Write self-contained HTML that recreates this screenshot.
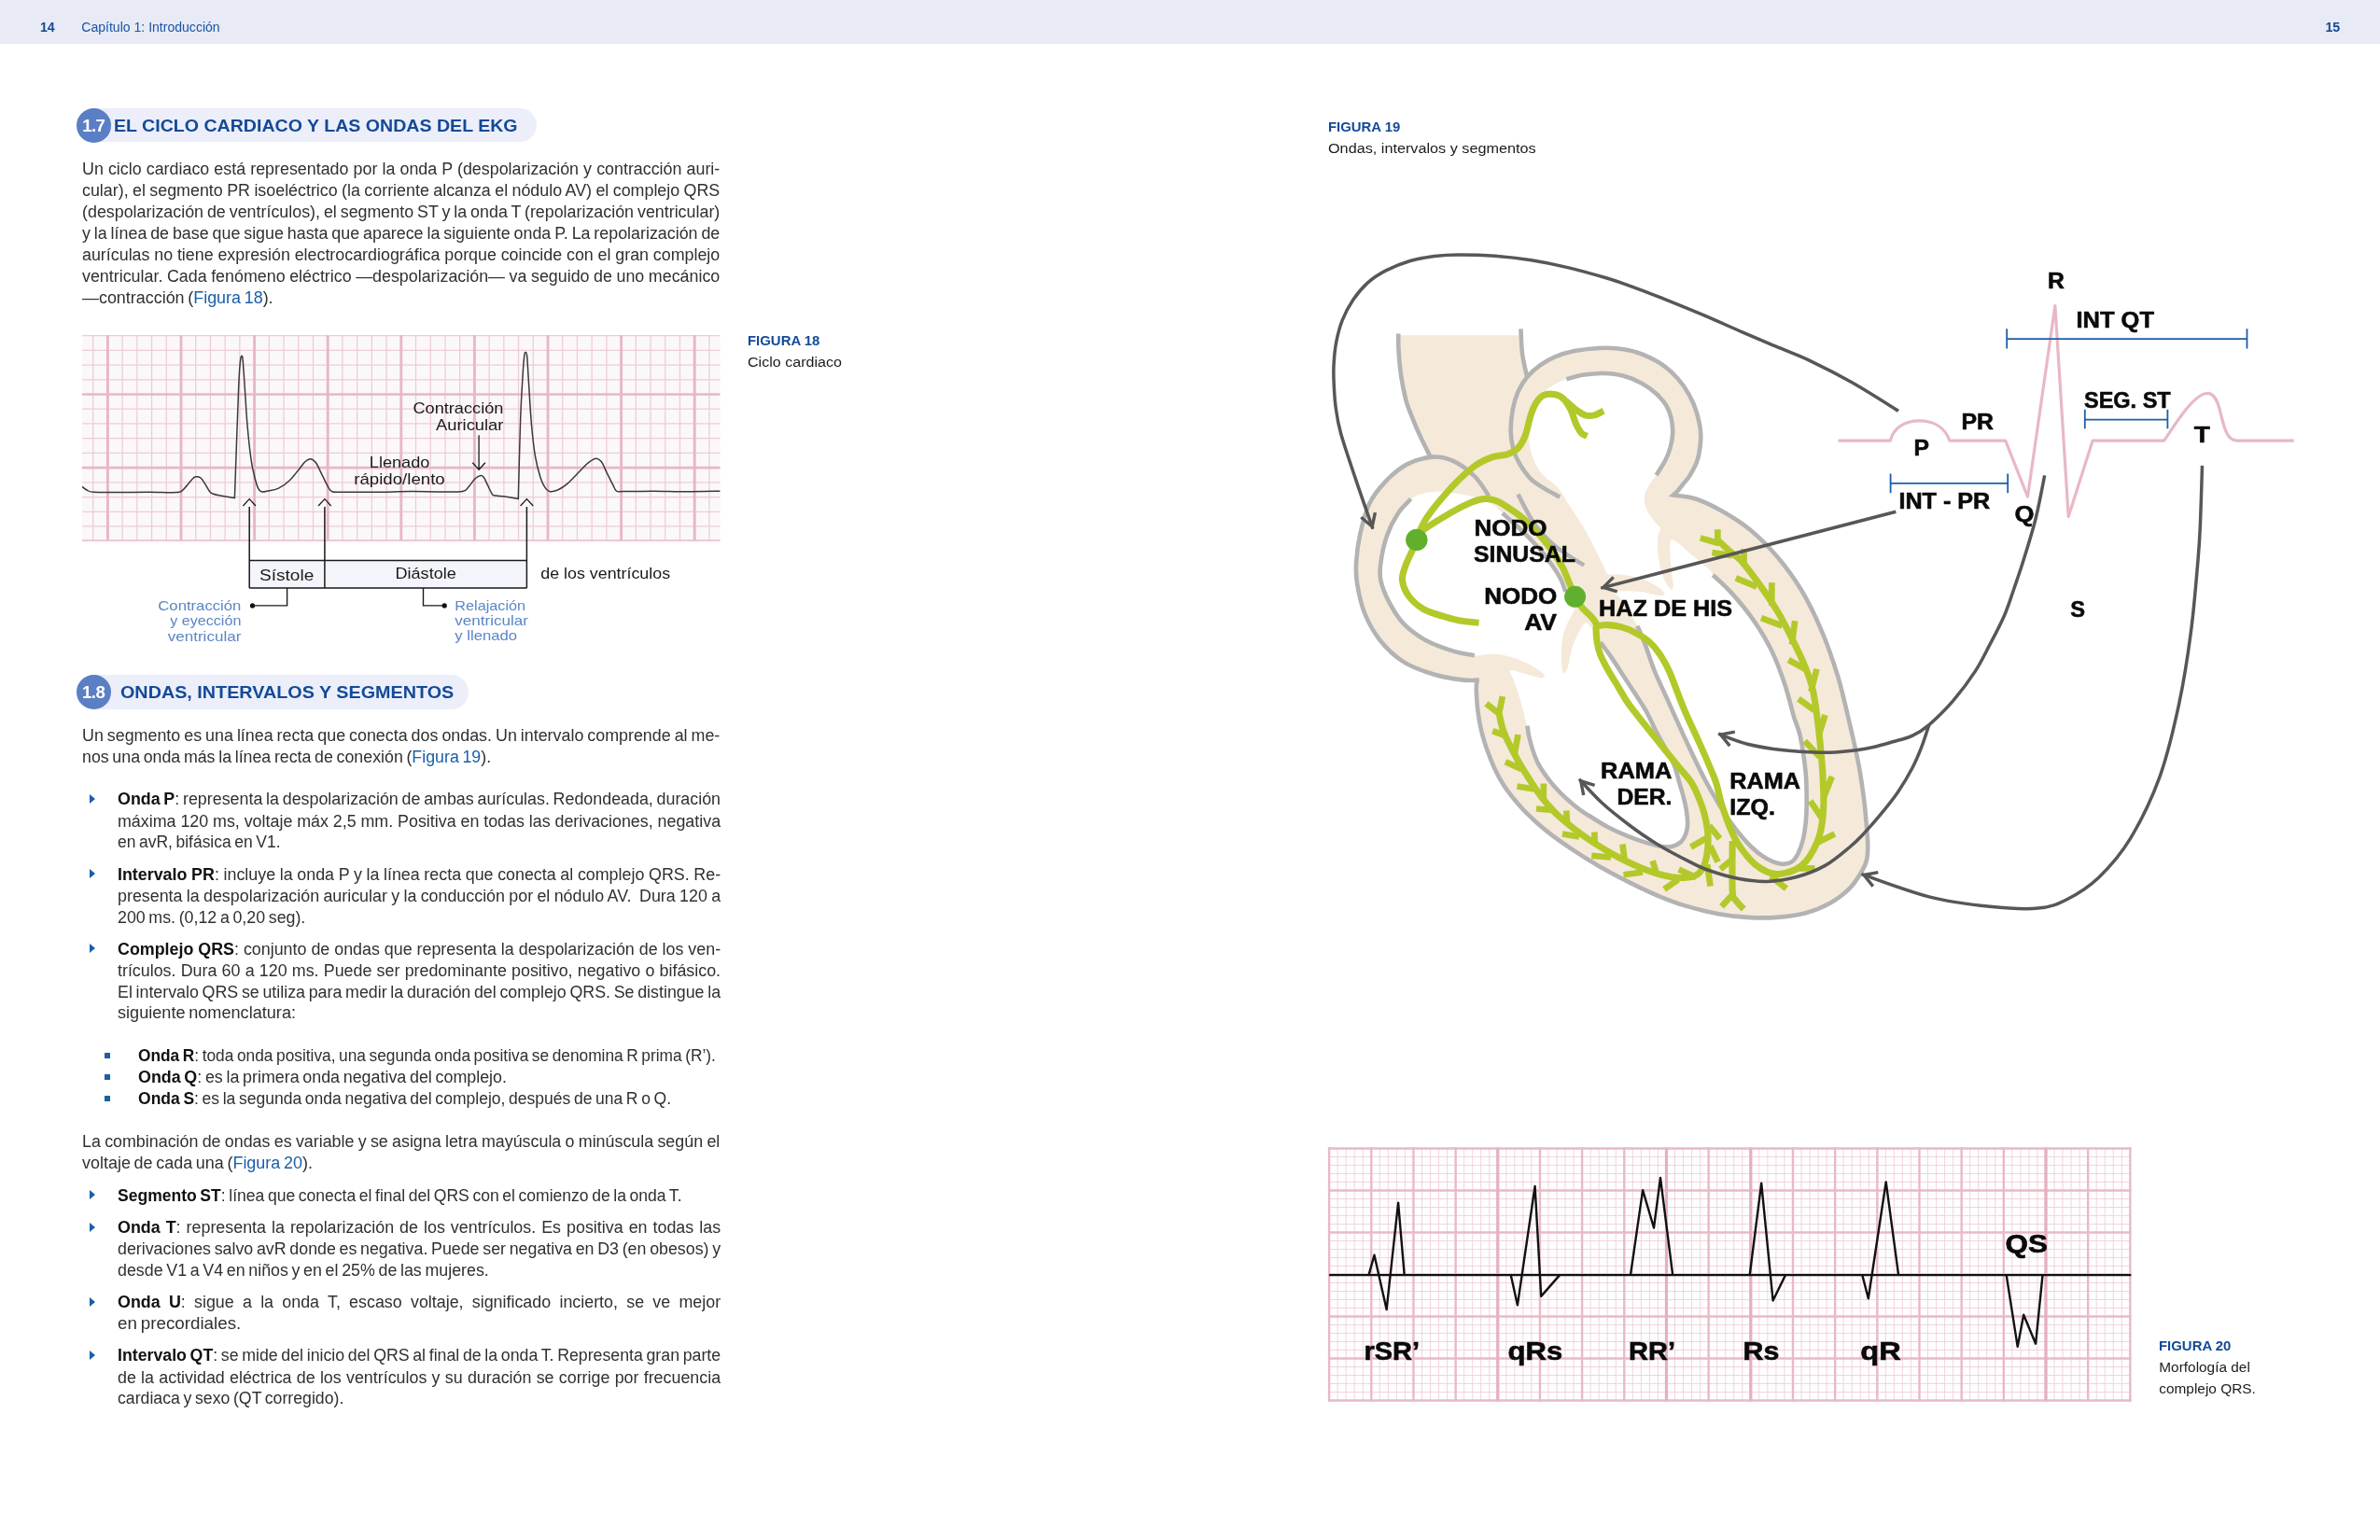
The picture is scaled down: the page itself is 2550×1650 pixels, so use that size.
<!DOCTYPE html>
<html lang="es"><head><meta charset="utf-8"><title>Cap&iacute;tulo 1</title>
<style>
html,body{margin:0;padding:0;background:#fff;}
body{width:2550px;height:1650px;position:relative;overflow:hidden;font-family:"Liberation Sans",sans-serif;color:#222;}
.hdr{position:absolute;left:0;top:0;width:2550px;height:46.5px;background:#e8eaf6;}
.pn{position:absolute;font-weight:bold;font-size:14.2px;color:#134a98;line-height:16px;letter-spacing:-0.2px}
.ch{position:absolute;font-size:14.05px;color:#1a55a3;line-height:16px;}
.pill{position:absolute;height:36.6px;background:#eceefa;border-radius:0 18.3px 18.3px 0;}
.circ{position:absolute;width:36.8px;height:36.8px;border-radius:50%;background:#5b7fc4;}
.hn{position:absolute;color:#fff;font-weight:bold;font-size:18.6px;line-height:20px;white-space:nowrap;letter-spacing:-0.6px}
.ht{position:absolute;color:#134a98;font-weight:bold;font-size:18.2px;line-height:20px;white-space:nowrap;transform-origin:0 0;}
.ln{position:absolute;word-spacing:-1.3px;font-size:18px;line-height:23px;height:23px;transform-origin:0 0;text-align:justify;text-align-last:justify;color:#303030;overflow:visible;}
.ln b{color:#111;font-weight:bold;}
.lk{color:#1a5fa8;}
.tri{position:absolute;width:0;height:0;border-left:6px solid #1a5fa8;border-top:5.8px solid transparent;border-bottom:5.8px solid transparent;}
.sq{position:absolute;width:6px;height:6px;background:#1a5fa8;}
.cap{position:absolute;font-weight:bold;color:#134a98;font-size:14.6px;line-height:16px;white-space:nowrap;transform-origin:0 0;}
.capt{position:absolute;color:#1c1c1c;font-size:15.4px;line-height:16px;white-space:nowrap;transform-origin:0 0;}
svg{position:absolute;left:0;top:0;}
svg text{font-family:"Liberation Sans",sans-serif;}
#pg{position:absolute;left:0;top:0;width:2550px;height:1650px;will-change:transform;}
</style></head><body><div id="pg">
<div class="hdr"></div>
<div class="pn" style="left:43px;top:21px">14</div>
<div class="ch" style="left:87.3px;top:21px">Cap&iacute;tulo 1: Introducci&oacute;n</div>
<div class="pn" style="left:2491.5px;top:21px">15</div>

<div class="pill" style="left:100.6px;top:115.9px;width:474.1px"></div>
<div class="circ" style="left:82.2px;top:115.8px"></div>
<div class="hn" style="left:88.3px;top:125.0px">1.7</div>
<div class="ht" id="h17" style="transform:scaleX(1.0765);left:121.8px;top:125.0px">EL CICLO CARDIACO Y LAS ONDAS DEL EKG</div>
<div class="pill" style="left:100.4px;top:723.1px;width:401.8px"></div>
<div class="circ" style="left:82.0px;top:723.0px"></div>
<div class="hn" style="left:88.1px;top:732.0px">1.8</div>
<div class="ht" id="h18" style="transform:scaleX(1.0864);left:128.8px;top:732.0px">ONDAS, INTERVALOS Y SEGMENTOS</div>
<div class="ln" style="left:88.3px;top:170.00px;width:688.81px;transform:scaleX(0.9920)">Un ciclo cardiaco está representado por la onda P (despolarización y contracción auri-</div>
<div class="ln" style="left:88.3px;top:193.00px;width:688.81px;transform:scaleX(0.9920)">cular), el segmento PR isoeléctrico (la corriente alcanza el nódulo AV) el complejo QRS</div>
<div class="ln" style="left:88.3px;top:216.00px;width:688.81px;transform:scaleX(0.9920)">(despolarización de ventrículos), el segmento ST y la onda T (repolarización ventricular)</div>
<div class="ln" style="left:88.3px;top:239.00px;width:688.81px;transform:scaleX(0.9920)">y la línea de base que sigue hasta que aparece la siguiente onda P. La repolarización de</div>
<div class="ln" style="left:88.3px;top:262.00px;width:688.81px;transform:scaleX(0.9920)">aurículas no tiene expresión electrocardiográfica porque coincide con el gran complejo</div>
<div class="ln" style="left:88.3px;top:285.00px;width:688.81px;transform:scaleX(0.9920)">ventricular. Cada fenómeno eléctrico —despolarización— va seguido de uno mecánico</div>
<div class="ln" style="left:88.3px;top:308.00px;width:207.50px;transform:scaleX(0.9956);text-align:left;text-align-last:left;white-space:nowrap">—contracción (<span class="lk">Figura 18</span>).</div>
<div class="ln" style="left:88.3px;top:777.00px;width:688.81px;transform:scaleX(0.9920)">Un segmento es una línea recta que conecta dos ondas. Un intervalo comprende al me-</div>
<div class="ln" style="left:88.3px;top:800.00px;width:445.30px;transform:scaleX(0.9883);text-align:left;text-align-last:left;white-space:nowrap">nos una onda más la línea recta de conexión (<span class="lk">Figura 19</span>).</div>
<div class="ln" style="left:125.5px;top:845.00px;width:651.35px;transform:scaleX(0.9919)"><b>Onda P</b>: representa la despolarización de ambas aurículas. Redondeada, duración</div>
<div class="ln" style="left:125.5px;top:869.00px;width:651.31px;transform:scaleX(0.9920)">máxima 120 ms, voltaje máx 2,5 mm. Positiva en todas las derivaciones, negativa</div>
<div class="ln" style="left:125.5px;top:891.00px;width:181.92px;transform:scaleX(0.9699);text-align:left;text-align-last:left;white-space:nowrap">en avR, bifásica en V1.</div>
<div class="ln" style="left:125.5px;top:926.00px;width:651.31px;transform:scaleX(0.9920)"><b>Intervalo PR</b>: incluye la onda P y la línea recta que conecta al complejo QRS. Re-</div>
<div class="ln" style="left:125.5px;top:949.00px;width:651.31px;transform:scaleX(0.9920)">presenta la despolarización auricular y la conducción por el nódulo AV.&nbsp; Dura 120 a</div>
<div class="ln" style="left:125.5px;top:972.00px;width:205.62px;transform:scaleX(0.9886);text-align:left;text-align-last:left;white-space:nowrap">200 ms. (0,12 a 0,20 seg).</div>
<div class="ln" style="left:125.5px;top:1006.00px;width:651.31px;transform:scaleX(0.9920)"><b>Complejo QRS</b>: conjunto de ondas que representa la despolarización de los ven-</div>
<div class="ln" style="left:125.5px;top:1029.00px;width:651.31px;transform:scaleX(0.9920)">trículos. Dura 60 a 120 ms. Puede ser predominante positivo, negativo o bifásico.</div>
<div class="ln" style="left:125.5px;top:1052.00px;width:652.78px;transform:scaleX(0.9898)">El intervalo QRS se utiliza para medir la duración del complejo QRS. Se distingue la</div>
<div class="ln" style="left:125.5px;top:1074.00px;width:191.83px;transform:scaleX(1.0062);text-align:left;text-align-last:left;white-space:nowrap">siguiente nomenclatura:</div>
<div class="ln" style="left:147.6px;top:1120.00px;width:645.47px;transform:scaleX(0.9618);text-align:left;text-align-last:left;white-space:nowrap"><b>Onda R</b>: toda onda positiva, una segunda onda positiva se denomina R prima (R’).</div>
<div class="ln" style="left:147.6px;top:1143.00px;width:399.83px;transform:scaleX(0.9929);text-align:left;text-align-last:left;white-space:nowrap"><b>Onda Q</b>: es la primera onda negativa del complejo.</div>
<div class="ln" style="left:147.6px;top:1166.00px;width:588.20px;transform:scaleX(0.9741);text-align:left;text-align-last:left;white-space:nowrap"><b>Onda S</b>: es la segunda onda negativa del complejo, después de una R o Q.</div>
<div class="ln" style="left:88.3px;top:1212.00px;width:688.81px;transform:scaleX(0.9920)">La combinación de ondas es variable y se asigna letra mayúscula o minúscula según el</div>
<div class="ln" style="left:88.3px;top:1235.00px;width:249.67px;transform:scaleX(0.9969);text-align:left;text-align-last:left;white-space:nowrap">voltaje de cada una (<span class="lk">Figura 20</span>).</div>
<div class="ln" style="left:125.5px;top:1270.00px;width:622.53px;transform:scaleX(0.9742);text-align:left;text-align-last:left;white-space:nowrap"><b>Segmento ST</b>: línea que conecta el final del QRS con el comienzo de la onda T.</div>
<div class="ln" style="left:125.5px;top:1304.00px;width:651.31px;transform:scaleX(0.9920)"><b>Onda T</b>: representa la repolarización de los ventrículos. Es positiva en todas las</div>
<div class="ln" style="left:125.5px;top:1327.00px;width:653.17px;transform:scaleX(0.9892)">derivaciones salvo avR donde es negativa. Puede ser negativa en D3 (en obesos) y</div>
<div class="ln" style="left:125.5px;top:1350.00px;width:403.67px;transform:scaleX(0.9904);text-align:left;text-align-last:left;white-space:nowrap">desde V1 a V4 en niños y en el 25% de las mujeres.</div>
<div class="ln" style="left:125.5px;top:1384.00px;width:651.31px;transform:scaleX(0.9920)"><b>Onda U</b>: sigue a la onda T, escaso voltaje, significado incierto, se ve mejor</div>
<div class="ln" style="left:125.5px;top:1407.00px;width:128.78px;transform:scaleX(1.0435);text-align:left;text-align-last:left;white-space:nowrap">en precordiales.</div>
<div class="ln" style="left:125.5px;top:1441.00px;width:655.89px;transform:scaleX(0.9851)"><b>Intervalo QT</b>: se mide del inicio del QRS al final de la onda T. Representa gran parte</div>
<div class="ln" style="left:125.5px;top:1465.00px;width:651.31px;transform:scaleX(0.9920)">de la actividad eléctrica de los ventrículos y su duración se corrige por frecuencia</div>
<div class="ln" style="left:125.5px;top:1487.00px;width:248.58px;transform:scaleX(0.9827);text-align:left;text-align-last:left;white-space:nowrap">cardiaca y sexo (QT corregido).</div>
<div class="tri" style="left:95.6px;top:851.1px"></div>
<div class="tri" style="left:95.6px;top:931.3px"></div>
<div class="tri" style="left:95.6px;top:1011.3px"></div>
<div class="tri" style="left:95.6px;top:1275.4px"></div>
<div class="tri" style="left:95.6px;top:1309.6px"></div>
<div class="tri" style="left:95.6px;top:1389.5px"></div>
<div class="tri" style="left:95.6px;top:1447.0px"></div>
<div class="sq" style="left:111.6px;top:1128.1px"></div>
<div class="sq" style="left:111.6px;top:1151.1px"></div>
<div class="sq" style="left:111.6px;top:1174.4px"></div>
<div class="cap" id="c1" style="transform:scaleX(1.0226);left:801.3px;top:357.2px">FIGURA 18</div>
<div class="capt" id="c2" style="transform:scaleX(1.0448);left:801.3px;top:379.8px">Ciclo cardiaco</div>
<div class="cap" id="c3" style="transform:scaleX(1.0213);left:1422.7px;top:127.9px">FIGURA 19</div>
<div class="capt" id="c4" style="transform:scaleX(1.0539);left:1422.7px;top:150.5px">Ondas, intervalos y segmentos</div>
<div class="cap" id="c5" style="transform:scaleX(1.0226);left:2313.3px;top:1434.0px">FIGURA 20</div>
<div class="capt" id="c6" style="left:2313.3px;top:1456.5px">Morfolog&iacute;a del</div>
<div class="capt" id="c7" style="left:2313.3px;top:1479.6px">complejo QRS.</div>
<svg width="2550" height="1650" viewBox="0 0 2550 1650">
<g id="fig18">
<rect x="88.0" y="359.0" width="683.5" height="221.0" fill="#fbf8f9"/>
<path d="M99.68,359.0V580.0 M131.12,359.0V580.0 M146.84,359.0V580.0 M162.56,359.0V580.0 M178.28,359.0V580.0 M209.72,359.0V580.0 M225.44,359.0V580.0 M241.16,359.0V580.0 M256.88,359.0V580.0 M288.32,359.0V580.0 M304.04,359.0V580.0 M319.76,359.0V580.0 M335.48,359.0V580.0 M366.92,359.0V580.0 M382.64,359.0V580.0 M398.36,359.0V580.0 M414.08,359.0V580.0 M445.52,359.0V580.0 M461.24,359.0V580.0 M476.96,359.0V580.0 M492.68,359.0V580.0 M524.12,359.0V580.0 M539.84,359.0V580.0 M555.56,359.0V580.0 M571.28,359.0V580.0 M602.72,359.0V580.0 M618.44,359.0V580.0 M634.16,359.0V580.0 M649.88,359.0V580.0 M681.32,359.0V580.0 M697.04,359.0V580.0 M712.76,359.0V580.0 M728.48,359.0V580.0 M759.92,359.0V580.0" stroke="#efcbd6" stroke-width="1.25" fill="none"/>
<path d="M88.0,359.62H771.5 M88.0,375.34H771.5 M88.0,391.06H771.5 M88.0,406.78H771.5 M88.0,438.22H771.5 M88.0,453.94H771.5 M88.0,469.66H771.5 M88.0,485.38H771.5 M88.0,516.82H771.5 M88.0,532.54H771.5 M88.0,548.26H771.5 M88.0,563.98H771.5" stroke="#efcbd6" stroke-width="1.25" fill="none"/>
<path d="M115.40,359.0V580.0 M194.00,359.0V580.0 M272.60,359.0V580.0 M351.20,359.0V580.0 M429.80,359.0V580.0 M508.40,359.0V580.0 M587.00,359.0V580.0 M665.60,359.0V580.0 M744.20,359.0V580.0" stroke="#e8b7c5" stroke-width="2.9" fill="none"/>
<path d="M88.0,422.50H771.5 M88.0,501.10H771.5" stroke="#e8b7c5" stroke-width="2.6" fill="none"/>
<path d="M88.0,579.10H771.5" stroke="#ecc0cc" stroke-width="1.8" fill="none"/>
<rect x="267.2" y="600.5" width="297.2" height="29.6" fill="#f4f5fb"/>
<path d="M267.2,600.5H564.4M267.2,630.1H564.4M267.2,543V630.1M347.9,543V630.1M564.4,543V630.1" stroke="#1a1a1a" stroke-width="1.5" fill="none"/>
<path d="M260.4,542.0L267.2,534.6L274.0,542.0" stroke="#1a1a1a" stroke-width="1.3" fill="none"/>
<path d="M341.1,542.0L347.9,534.6L354.7,542.0" stroke="#1a1a1a" stroke-width="1.3" fill="none"/>
<path d="M557.6,542.0L564.4,534.6L571.2,542.0" stroke="#1a1a1a" stroke-width="1.3" fill="none"/>
<path d="M307.6,630.1V648.9H270.5M453.5,630.1V648.9H476.2" stroke="#1a1a1a" stroke-width="1.4" fill="none"/>
<circle cx="270.5" cy="648.9" r="2.6" fill="#111"/><circle cx="476.2" cy="648.9" r="2.6" fill="#111"/>
<path d="M513.1,466.3V503M506.3,495.8L513.1,503.2L519.9,495.8" stroke="#1a1a1a" stroke-width="1.3" fill="none"/>
<path d="M88.1,521.4 C88.9,522.0 91.0,524.0 93.0,525.0 C95.0,526.0 94.0,526.9 100.2,527.3 C106.4,527.7 120.0,527.5 130.0,527.5 C140.0,527.5 150.1,527.3 160.0,527.3 C169.9,527.3 183.2,528.0 189.2,527.6 C195.2,527.2 193.8,526.5 196.0,524.8 C198.2,523.1 200.8,519.4 202.7,517.2 C204.6,515.0 206.2,512.8 207.7,511.7 C209.1,510.6 210.1,510.7 211.4,510.8 C212.7,510.9 214.0,511.0 215.3,512.2 C216.7,513.4 218.0,515.7 219.5,518.1 C221.0,520.5 223.1,524.7 224.5,526.5 C225.9,528.3 226.2,528.3 227.9,529.0 C229.6,529.7 230.7,530.0 234.6,530.7 C238.5,531.5 248.6,533.0 251.4,533.5 L251.4,533.5 C252.1,514.1 254.6,441.3 255.6,417.2 C256.6,393.1 256.8,394.6 257.3,388.7 C257.8,382.8 258.2,382.0 258.7,381.6 C259.2,381.2 259.6,380.2 260.2,386.1 C260.8,392.0 261.6,405.9 262.4,417.2 C263.2,428.5 263.8,441.6 264.9,454.2 C266.0,466.8 267.7,483.1 269.1,492.9 C270.5,502.7 272.1,508.0 273.3,513.0 C274.6,518.0 275.5,520.8 276.6,523.1 C277.7,525.4 278.3,526.3 280.0,526.8 C281.7,527.3 283.6,526.7 286.7,526.1 C289.8,525.5 294.6,525.0 298.5,523.1 C302.4,521.2 306.7,518.1 310.3,514.7 C313.9,511.3 317.5,506.3 320.3,502.9 C323.1,499.5 325.0,496.4 327.1,494.5 C329.2,492.6 330.9,491.4 332.9,491.7 C334.8,492.0 336.7,493.2 338.8,496.2 C340.9,499.2 343.2,505.2 345.5,509.7 C347.8,514.2 350.6,520.3 352.3,523.1 C354.0,525.9 354.0,525.8 355.6,526.5 C357.2,527.2 354.6,527.1 362.0,527.2 C369.4,527.3 387.0,527.4 400.0,527.3 C413.0,527.2 428.3,526.7 440.0,526.6 C451.7,526.5 460.8,526.9 470.0,526.9 C479.2,526.9 490.1,527.4 495.5,526.5 C500.9,525.6 500.0,523.6 502.2,521.4 C504.4,519.1 506.9,515.0 508.9,513.0 C510.9,511.1 512.8,510.0 514.3,509.7 C515.8,509.4 516.9,509.6 518.2,511.3 C519.6,513.0 521.0,516.9 522.4,519.7 C523.8,522.5 525.5,526.4 526.6,528.2 C527.7,530.0 526.7,530.1 529.1,530.7 C531.5,531.3 536.4,531.4 540.8,532.0 C545.2,532.6 552.9,534.0 555.3,534.4 L555.3,534.4 C555.7,520.5 556.8,473.1 557.6,450.8 C558.4,428.5 559.5,412.0 560.2,400.4 C560.9,388.8 561.3,384.9 561.8,381.1 C562.3,377.3 562.7,377.3 563.2,377.4 C563.7,377.5 564.2,376.7 564.7,381.9 C565.2,387.1 565.6,396.8 566.4,408.8 C567.2,420.9 568.2,440.8 569.4,454.2 C570.6,467.6 571.9,479.7 573.6,489.5 C575.3,499.3 577.7,507.4 579.5,513.0 C581.3,518.6 582.8,520.8 584.5,523.1 C586.2,525.4 587.4,526.5 589.6,526.8 C591.9,527.1 594.9,526.2 598.0,524.8 C601.1,523.3 604.5,521.2 608.1,518.1 C611.7,515.0 616.2,510.0 619.8,506.3 C623.4,502.6 626.8,498.7 629.9,496.2 C633.0,493.7 635.9,491.5 638.3,491.2 C640.7,490.9 642.2,492.0 644.2,494.5 C646.2,497.0 648.0,502.1 650.1,506.3 C652.2,510.5 655.1,516.4 656.8,519.7 C658.5,523.0 658.6,525.0 660.5,526.1 C662.4,527.2 661.4,526.6 668.0,526.6 C674.6,526.6 688.8,526.2 700.0,526.2 C711.2,526.2 723.1,526.8 735.0,526.8 C746.9,526.8 765.3,526.3 771.4,526.2" stroke="#3a3a3a" stroke-width="1.5" fill="none" stroke-linejoin="miter"/>
<text x="442.4" y="443.0" font-size="16.6" fill="#1a1a1a" text-anchor="start" font-weight="normal" textLength="97.0" lengthAdjust="spacingAndGlyphs">Contracci&oacute;n</text>
<text x="467.0" y="461.0" font-size="16.6" fill="#1a1a1a" text-anchor="start" font-weight="normal" textLength="72.4" lengthAdjust="spacingAndGlyphs">Auricular</text>
<text x="395.8" y="500.9" font-size="16.6" fill="#1a1a1a" text-anchor="start" font-weight="normal" textLength="64.6" lengthAdjust="spacingAndGlyphs">Llenado</text>
<text x="379.3" y="519.2" font-size="16.6" fill="#1a1a1a" text-anchor="start" font-weight="normal" textLength="97.4" lengthAdjust="spacingAndGlyphs">r&aacute;pido/lento</text>
<text x="278.0" y="621.8" font-size="17.4" fill="#1a1a1a" text-anchor="start" font-weight="normal" textLength="58.3" lengthAdjust="spacingAndGlyphs">S&iacute;stole</text>
<text x="423.5" y="619.9" font-size="17.4" fill="#1a1a1a" text-anchor="start" font-weight="normal" textLength="65.3" lengthAdjust="spacingAndGlyphs">Di&aacute;stole</text>
<text x="579.3" y="619.9" font-size="17.4" fill="#1a1a1a" text-anchor="start" font-weight="normal" textLength="138.8" lengthAdjust="spacingAndGlyphs">de los ventr&iacute;culos</text>
<text x="169.3" y="654.0" font-size="15.0" fill="#5a86c6" text-anchor="start" font-weight="normal" textLength="89.1" lengthAdjust="spacingAndGlyphs">Contracci&oacute;n</text>
<text x="182.2" y="670.0" font-size="15.0" fill="#5a86c6" text-anchor="start" font-weight="normal" textLength="76.2" lengthAdjust="spacingAndGlyphs">y eyecci&oacute;n</text>
<text x="179.7" y="686.5" font-size="15.0" fill="#5a86c6" text-anchor="start" font-weight="normal" textLength="78.7" lengthAdjust="spacingAndGlyphs">ventricular</text>
<text x="487.3" y="654.0" font-size="15.0" fill="#5a86c6" text-anchor="start" font-weight="normal" textLength="75.8" lengthAdjust="spacingAndGlyphs">Relajaci&oacute;n</text>
<text x="487.3" y="670.0" font-size="15.0" fill="#5a86c6" text-anchor="start" font-weight="normal" textLength="78.7" lengthAdjust="spacingAndGlyphs">ventricular</text>
<text x="487.3" y="686.0" font-size="15.0" fill="#5a86c6" text-anchor="start" font-weight="normal" textLength="66.8" lengthAdjust="spacingAndGlyphs">y llenado</text>
</g>
<g id="fig19">
<path d="M1500.6,359.2 L1627.2,359.2 L1627.2,359.2 C1627.5,362.4 1627.8,371.6 1629.0,378.7 C1630.2,385.8 1633.3,398.1 1634.2,402.0L1636.2,404.0 C1638.6,401.9 1645.4,394.8 1650.4,391.2 C1655.4,387.6 1659.9,384.8 1666.0,382.3 C1672.1,379.8 1679.0,377.7 1686.8,376.1 C1694.6,374.6 1704.9,373.4 1712.7,373.0 C1720.5,372.6 1726.6,372.7 1733.5,373.5 C1740.4,374.3 1747.4,375.4 1754.3,377.7 C1761.2,379.9 1769.0,383.6 1775.1,387.0 C1781.1,390.4 1785.8,393.9 1790.6,398.4 C1795.4,402.9 1800.2,408.3 1804.2,414.0 C1808.2,419.7 1811.7,426.1 1814.5,432.7 C1817.3,439.3 1819.5,447.4 1820.8,453.5 C1822.1,459.6 1822.4,463.7 1822.3,469.1 C1822.2,474.5 1821.2,481.6 1820.4,486.0 C1819.6,490.4 1818.8,492.7 1817.7,495.6 C1816.6,498.5 1815.4,500.8 1814.0,503.4 C1812.6,506.0 1811.2,508.6 1809.4,511.2 C1807.6,513.8 1805.2,516.3 1803.2,518.8 C1801.2,521.3 1799.0,524.5 1797.2,526.4 C1795.5,528.3 1793.5,529.7 1792.7,530.4L1792.7,530.4 C1796.7,531.1 1808.0,531.5 1816.9,534.5 C1825.8,537.5 1836.4,542.7 1846.1,548.2 C1855.8,553.7 1865.5,559.6 1875.3,567.7 C1885.0,575.8 1895.5,586.2 1904.6,596.9 C1913.7,607.6 1922.1,619.0 1929.9,632.0 C1937.7,645.0 1944.8,659.5 1951.3,674.8 C1957.8,690.0 1963.8,707.3 1968.8,723.5 C1973.8,739.7 1977.3,756.4 1981.0,772.0 C1984.7,787.6 1988.4,803.5 1991.1,817.4 C1993.8,831.3 1995.6,844.9 1997.0,855.6 C1998.4,866.3 1998.9,873.5 1999.6,881.6 C2000.3,889.7 2001.1,897.8 2001.2,904.4 C2001.3,911.0 2001.1,916.1 2000.1,921.0 C1999.0,925.9 1998.0,928.3 1994.9,933.5 C1991.8,938.7 1987.1,946.5 1981.4,952.2 C1975.7,957.9 1968.4,963.5 1960.6,967.8 C1952.8,972.1 1944.2,975.7 1934.7,978.2 C1925.2,980.7 1913.9,982.1 1903.5,982.9 C1893.1,983.7 1882.7,983.5 1872.3,982.9 C1861.9,982.3 1852.1,981.2 1841.2,979.2 C1830.3,977.2 1817.9,974.2 1807.0,970.9 C1796.1,967.6 1786.2,963.8 1775.8,959.5 C1765.4,955.2 1755.1,950.1 1744.7,944.9 C1734.3,939.7 1723.9,934.3 1713.5,928.3 C1703.1,922.2 1691.8,915.0 1682.3,908.6 C1672.8,902.2 1664.2,896.1 1656.4,889.9 C1648.6,883.7 1641.7,877.3 1635.6,871.2 C1629.5,865.1 1624.0,858.3 1620.0,853.5 C1616.0,848.7 1615.0,847.5 1611.9,842.6 C1608.8,837.7 1604.7,830.5 1601.6,823.9 C1598.5,817.3 1595.6,810.0 1593.2,803.1 C1590.8,796.2 1588.6,789.2 1587.0,782.3 C1585.4,775.4 1584.3,768.5 1583.4,761.6 C1582.5,754.7 1582.0,746.3 1581.8,740.8 C1581.6,735.3 1582.2,730.8 1582.3,728.8 L1584.6,728.8 L1584.6,728.8 C1581.8,728.8 1576.0,729.6 1568.1,728.6 C1560.1,727.6 1547.6,726.0 1536.9,722.7 C1526.2,719.5 1513.5,715.3 1503.8,709.1 C1494.0,702.9 1485.4,694.5 1478.4,685.7 C1471.4,676.9 1466.0,666.6 1461.9,656.5 C1457.9,646.4 1455.6,634.3 1454.1,625.3 C1452.6,616.3 1452.6,611.3 1453.1,602.7 C1453.6,594.1 1454.7,583.9 1457.0,573.5 C1459.3,563.1 1462.2,550.0 1466.8,540.4 C1471.3,530.8 1477.5,523.3 1484.3,516.1 C1491.1,508.9 1499.3,501.8 1507.7,497.4 C1516.1,493.0 1530.4,490.9 1534.9,489.6L1532.5,489.4 C1530.7,485.7 1524.7,473.9 1521.5,467.0 C1518.3,460.1 1516.0,454.7 1513.5,448.3 C1511.0,441.9 1508.5,436.4 1506.4,428.8 C1504.4,421.2 1502.2,411.5 1501.2,402.9 C1500.2,394.2 1500.4,384.2 1500.3,376.9 C1500.2,369.6 1500.5,362.1 1500.6,359.2Z" fill="#f5e9da"/>
<path d="M1511.6,534.6 C1507.0,538.2 1502.1,543.6 1497.9,550.1 C1493.7,556.6 1489.3,564.7 1486.2,573.5 C1483.1,582.3 1480.5,594.6 1479.4,602.7 C1478.3,610.8 1477.9,615.0 1479.4,622.0 C1480.9,629.0 1484.1,637.1 1488.2,644.8 C1492.3,652.5 1497.3,661.4 1503.8,668.2 C1510.3,675.0 1518.3,680.8 1527.1,685.7 C1535.9,690.6 1547.6,694.6 1556.4,697.4 C1565.2,700.2 1572.3,701.7 1579.8,702.3 C1587.3,702.9 1594.5,700.4 1601.6,700.8 C1608.7,701.2 1615.7,702.8 1622.3,704.9 C1628.9,707.0 1635.8,710.4 1641.0,713.2 C1646.2,716.0 1651.2,719.7 1653.5,721.6 C1655.8,723.5 1655.0,723.9 1654.5,724.7 C1654.0,725.5 1654.0,726.7 1650.4,726.2 C1646.8,725.7 1638.1,722.9 1632.7,721.6 C1627.3,720.3 1619.9,717.0 1618.2,718.4 C1616.5,719.8 1620.8,725.4 1622.3,729.9 C1623.8,734.4 1625.9,740.5 1627.5,745.5 C1629.1,750.5 1630.4,755.0 1631.7,760.0 C1633.0,765.0 1634.5,772.3 1635.3,775.3 C1636.1,778.2 1636.0,775.7 1636.4,777.7 C1636.8,779.7 1637.0,783.3 1637.9,787.5 C1638.9,791.7 1640.4,797.9 1642.1,803.1 C1643.8,808.3 1645.5,813.5 1648.3,818.7 C1651.1,823.9 1654.7,829.1 1658.7,834.3 C1662.7,839.5 1667.0,844.7 1672.2,849.9 C1677.4,855.1 1684.8,861.4 1689.9,865.5 C1695.1,869.6 1697.4,870.8 1703.1,874.3 C1708.8,877.8 1717.0,883.2 1723.9,886.8 C1730.8,890.4 1737.8,893.3 1744.7,896.1 C1751.6,898.9 1759.5,901.6 1765.5,903.4 C1771.5,905.2 1776.7,906.4 1781.0,907.0 C1785.3,907.6 1788.1,907.8 1791.4,907.0 C1794.7,906.2 1798.4,904.5 1800.8,902.3 C1803.2,900.1 1804.8,897.1 1806.0,894.0 C1807.2,890.9 1807.9,887.8 1808.1,883.6 C1808.3,879.5 1807.7,874.0 1807.0,869.1 C1806.3,864.2 1805.1,859.4 1803.9,854.5 C1802.7,849.6 1801.3,845.5 1799.7,840.0 C1798.1,834.5 1796.5,827.0 1794.3,821.3 C1792.1,815.6 1789.8,811.9 1786.5,805.7 C1783.2,799.5 1778.8,791.9 1774.8,784.3 C1770.8,776.7 1768.1,769.4 1762.6,760.0 C1757.1,750.6 1747.9,737.1 1741.8,727.8 C1735.7,718.4 1730.7,710.5 1726.2,703.9 C1721.7,697.3 1717.7,692.6 1714.8,688.3 C1711.9,684.0 1711.2,681.4 1708.6,677.9 C1706.0,674.4 1702.2,667.3 1699.2,667.5 C1696.2,667.7 1693.3,674.7 1690.9,679.0 C1688.5,683.3 1686.4,688.0 1684.7,693.5 C1683.0,699.0 1681.9,707.6 1680.5,712.2 C1679.1,716.8 1677.4,719.8 1676.4,721.0 C1675.4,722.2 1674.9,722.4 1674.3,719.5 C1673.7,716.6 1672.7,710.0 1672.7,703.9 C1672.7,697.8 1673.2,689.2 1674.3,683.1 C1675.4,677.0 1677.4,672.7 1679.5,667.5 C1681.6,662.3 1686.8,656.1 1687.0,652.0 C1687.2,647.9 1682.6,646.0 1681.0,643.0 C1679.4,640.0 1678.9,637.8 1677.4,634.0 C1675.9,630.2 1674.5,625.0 1672.2,620.5 C1670.0,616.0 1667.4,612.0 1663.9,607.0 C1660.4,602.0 1656.6,596.5 1651.4,590.4 C1646.2,584.3 1639.6,577.4 1632.7,570.6 C1625.8,563.9 1615.4,554.8 1609.9,549.9 C1604.5,545.0 1604.7,543.8 1600.0,541.0 C1595.3,538.2 1588.3,535.0 1581.7,533.0 C1575.1,531.0 1567.1,529.8 1560.3,528.7 C1553.5,527.6 1546.6,526.4 1540.8,526.4 C1535.0,526.4 1530.1,527.3 1525.2,528.7 C1520.3,530.1 1516.1,531.0 1511.6,534.6Z" fill="#fff"/>
<path d="M1678.4,406.2 C1684.7,403.9 1690.5,402.6 1697.1,401.6 C1703.7,400.6 1711.0,399.8 1717.9,400.0 C1724.8,400.2 1731.8,400.8 1738.7,402.6 C1745.6,404.4 1753.4,407.6 1759.5,410.9 C1765.6,414.2 1770.8,418.3 1775.1,422.3 C1779.4,426.3 1782.9,430.5 1785.5,434.8 C1788.1,439.1 1789.5,443.5 1790.6,448.3 C1791.7,453.1 1792.4,458.7 1792.2,463.9 C1792.0,469.1 1790.9,474.6 1789.6,479.5 C1788.3,484.4 1786.9,488.1 1784.4,493.0 C1781.9,497.9 1777.6,504.3 1774.5,509.1 C1771.4,513.9 1767.9,517.5 1765.7,521.6 C1763.5,525.8 1761.8,529.9 1761.6,534.0 C1761.4,538.1 1763.0,542.5 1764.7,546.5 C1766.4,550.5 1769.6,554.6 1772.0,557.9 C1774.4,561.2 1778.4,563.6 1779.2,566.2 C1780.0,568.8 1777.1,569.7 1776.6,573.5 C1776.1,577.3 1775.7,583.0 1776.1,589.1 C1776.5,595.2 1777.6,603.8 1779.2,609.9 C1780.8,616.0 1783.6,621.9 1785.5,625.5 C1787.4,629.1 1789.4,631.4 1790.6,631.7 C1791.8,632.0 1792.7,631.1 1792.7,627.5 C1792.7,623.9 1791.1,615.4 1790.6,609.9 C1790.1,604.4 1789.4,599.6 1789.6,594.3 C1789.8,589.0 1787.7,578.0 1791.7,578.2 C1795.7,578.4 1806.8,589.8 1813.5,595.3 C1820.2,600.8 1828.4,607.5 1832.0,611.0 C1835.6,614.5 1831.3,612.0 1835.3,616.1 C1839.3,620.2 1848.5,627.7 1855.8,635.9 C1863.1,644.1 1872.0,654.7 1879.2,665.1 C1886.4,675.5 1893.2,686.8 1898.7,698.2 C1904.2,709.6 1908.4,721.6 1912.3,733.3 C1916.2,745.0 1919.4,759.1 1922.1,768.3 C1924.8,777.4 1926.6,778.4 1928.7,788.2 C1930.8,798.0 1933.4,815.0 1934.6,827.1 C1935.8,839.2 1935.7,851.7 1935.7,860.8 C1935.7,869.9 1935.4,875.0 1934.7,881.6 C1934.0,888.2 1933.0,894.8 1931.6,900.3 C1930.2,905.8 1928.3,911.0 1926.4,914.8 C1924.5,918.6 1922.9,921.3 1920.1,923.1 C1917.3,924.9 1913.2,925.7 1909.7,925.7 C1906.2,925.7 1903.0,924.6 1899.4,923.1 C1895.8,921.6 1891.7,919.5 1887.9,916.9 C1884.1,914.3 1880.3,911.1 1876.5,907.5 C1872.7,903.9 1868.7,899.4 1865.1,895.1 C1861.5,890.8 1858.2,886.5 1854.7,881.6 C1851.2,876.8 1847.8,871.5 1844.3,866.0 C1840.8,860.5 1837.4,854.4 1833.9,848.3 C1830.4,842.1 1828.5,839.1 1823.5,829.1 C1818.5,819.1 1810.5,802.2 1804.0,788.2 C1797.5,774.2 1789.8,756.8 1784.6,745.3 C1779.4,733.8 1776.7,728.6 1773.0,719.5 C1769.3,710.4 1765.7,698.5 1762.6,690.4 C1759.5,682.2 1756.9,676.0 1754.3,670.6 C1751.7,665.2 1750.0,663.0 1747.0,658.2 C1744.0,653.4 1739.4,645.6 1736.6,641.6 C1733.8,637.6 1726.9,635.3 1730.4,634.0 C1733.9,632.7 1749.4,633.3 1757.4,634.0 C1765.4,634.7 1773.9,637.9 1778.2,638.2 C1782.5,638.6 1783.8,637.7 1783.4,636.1 C1783.1,634.5 1780.4,631.6 1776.1,628.8 C1771.8,626.0 1764.3,621.8 1757.4,619.5 C1750.5,617.2 1740.2,616.0 1734.5,615.3 C1728.8,614.6 1725.9,616.8 1723.1,615.3 C1720.3,613.8 1720.5,611.0 1717.9,606.0 C1715.3,601.0 1711.3,592.5 1707.5,585.2 C1703.7,577.9 1699.8,570.1 1695.1,562.3 C1690.4,554.5 1683.8,545.0 1679.5,538.4 C1675.2,531.8 1674.0,528.1 1669.4,522.9 C1664.8,517.7 1656.3,512.8 1651.8,507.3 C1647.2,501.8 1644.4,496.0 1642.1,489.8 C1639.8,483.6 1638.7,476.8 1638.2,470.3 C1637.7,463.8 1637.9,457.3 1639.2,450.8 C1640.5,444.3 1642.6,437.2 1646.0,431.3 C1649.4,425.4 1654.2,419.9 1659.6,415.7 C1665.0,411.5 1672.2,408.5 1678.4,406.2Z" fill="#fff"/>
<path d="M1498.3,357.4 C1498.3,360.6 1498.1,369.3 1498.6,376.9 C1499.1,384.5 1499.9,394.2 1501.2,402.9 C1502.5,411.5 1504.4,421.2 1506.4,428.8 C1508.5,436.4 1511.0,441.9 1513.5,448.3 C1516.0,454.7 1518.3,460.1 1521.5,467.0 C1524.7,473.9 1530.7,485.7 1532.5,489.4" stroke="#b3b3b3" stroke-width="4.6" fill="none" stroke-linecap="butt"/>
<path d="M1629.4,352.4 C1629.7,356.8 1629.9,370.1 1631.0,378.7 C1632.1,387.3 1635.3,399.8 1636.2,404.0" stroke="#b3b3b3" stroke-width="4.6" fill="none" stroke-linecap="butt"/>
<path d="M1595.3,531.6 C1592.7,528.0 1586.3,516.5 1579.8,510.2 C1573.3,503.9 1563.9,497.0 1556.4,493.6 C1548.9,490.2 1543.0,489.0 1534.9,489.6 C1526.8,490.2 1516.1,493.0 1507.7,497.4 C1499.3,501.8 1491.1,508.9 1484.3,516.1 C1477.5,523.3 1471.3,530.8 1466.8,540.4 C1462.2,550.0 1459.3,563.1 1457.0,573.5 C1454.7,583.9 1453.6,594.1 1453.1,602.7 C1452.6,611.3 1452.6,616.3 1454.1,625.3 C1455.6,634.3 1457.9,646.4 1461.9,656.5 C1466.0,666.6 1471.4,676.9 1478.4,685.7 C1485.4,694.5 1494.0,702.9 1503.8,709.1 C1513.5,715.3 1526.2,719.5 1536.9,722.7 C1547.6,726.0 1560.1,727.6 1568.1,728.6 C1576.0,729.6 1581.8,728.8 1584.6,728.8" stroke="#b3b3b3" stroke-width="4.6" fill="none" stroke-linecap="butt"/>
<path d="M1678.4,406.2 C1681.5,405.4 1690.5,402.6 1697.1,401.6 C1703.7,400.6 1711.0,399.8 1717.9,400.0 C1724.8,400.2 1731.8,400.8 1738.7,402.6 C1745.6,404.4 1753.4,407.6 1759.5,410.9 C1765.6,414.2 1770.8,418.3 1775.1,422.3 C1779.4,426.3 1782.9,430.5 1785.5,434.8 C1788.1,439.1 1789.5,443.5 1790.6,448.3 C1791.7,453.1 1792.4,458.7 1792.2,463.9 C1792.0,469.1 1790.9,474.6 1789.6,479.5 C1788.3,484.4 1786.9,488.1 1784.4,493.0 C1781.9,497.9 1776.2,506.4 1774.5,509.1" stroke="#b3b3b3" stroke-width="4.6" fill="none" stroke-linecap="butt"/>
<path d="M1511.6,534.6 C1509.3,537.2 1502.1,543.6 1497.9,550.1 C1493.7,556.6 1489.3,564.7 1486.2,573.5 C1483.1,582.3 1480.5,594.6 1479.4,602.7 C1478.3,610.8 1477.9,615.0 1479.4,622.0 C1480.9,629.0 1484.1,637.1 1488.2,644.8 C1492.3,652.5 1497.3,661.4 1503.8,668.2 C1510.3,675.0 1518.3,680.8 1527.1,685.7 C1535.9,690.6 1547.6,694.6 1556.4,697.4 C1565.2,700.2 1575.9,701.5 1579.8,702.3" stroke="#b3b3b3" stroke-width="4.6" fill="none" stroke-linecap="butt"/>
<path d="M1626.5,529.6 C1627.9,532.3 1631.5,539.9 1634.8,545.7 C1638.1,551.5 1641.3,558.2 1646.2,564.4 C1651.1,570.6 1657.8,577.7 1663.9,583.1 C1670.0,588.5 1677.1,592.9 1682.6,596.6 C1688.1,600.3 1694.7,604.0 1697.1,605.5" stroke="#b3b3b3" stroke-width="4.6" fill="none" stroke-linecap="butt"/>
<path d="M1609.9,549.9 C1613.7,553.4 1625.8,563.9 1632.7,570.6 C1639.6,577.4 1646.2,584.3 1651.4,590.4 C1656.6,596.5 1660.4,602.0 1663.9,607.0 C1667.4,612.0 1670.0,616.0 1672.2,620.5 C1674.5,625.0 1676.5,631.8 1677.4,634.0" stroke="#b3b3b3" stroke-width="4.6" fill="none" stroke-linecap="butt"/>
<path d="M1636.4,777.7 C1636.7,779.3 1637.0,783.3 1637.9,787.5 C1638.9,791.7 1640.4,797.9 1642.1,803.1 C1643.8,808.3 1645.5,813.5 1648.3,818.7 C1651.1,823.9 1654.7,829.1 1658.7,834.3 C1662.7,839.5 1667.0,844.7 1672.2,849.9 C1677.4,855.1 1684.8,861.4 1689.9,865.5 C1695.1,869.6 1697.4,870.8 1703.1,874.3 C1708.8,877.8 1717.0,883.2 1723.9,886.8 C1730.8,890.4 1737.8,893.3 1744.7,896.1 C1751.6,898.9 1759.5,901.6 1765.5,903.4 C1771.5,905.2 1776.7,906.4 1781.0,907.0 C1785.3,907.6 1788.1,907.8 1791.4,907.0 C1794.7,906.2 1798.4,904.5 1800.8,902.3 C1803.2,900.1 1804.8,897.1 1806.0,894.0 C1807.2,890.9 1807.9,887.8 1808.1,883.6 C1808.3,879.5 1807.7,874.0 1807.0,869.1 C1806.3,864.2 1805.1,859.4 1803.9,854.5 C1802.7,849.6 1801.3,845.5 1799.7,840.0 C1798.1,834.5 1796.5,827.0 1794.3,821.3 C1792.1,815.6 1789.8,811.9 1786.5,805.7 C1783.2,799.5 1778.8,791.9 1774.8,784.3 C1770.8,776.7 1768.1,769.4 1762.6,760.0 C1757.1,750.6 1747.9,737.1 1741.8,727.8 C1735.7,718.4 1730.7,710.5 1726.2,703.9 C1721.7,697.3 1716.7,690.9 1714.8,688.3" stroke="#b3b3b3" stroke-width="4.6" fill="none" stroke-linecap="butt"/>
<path d="M1835.3,616.1 C1838.7,619.4 1848.5,627.7 1855.8,635.9 C1863.1,644.1 1872.0,654.7 1879.2,665.1 C1886.4,675.5 1893.2,686.8 1898.7,698.2 C1904.2,709.6 1908.4,721.6 1912.3,733.3 C1916.2,745.0 1919.4,759.1 1922.1,768.3 C1924.8,777.4 1926.6,778.4 1928.7,788.2 C1930.8,798.0 1933.4,815.0 1934.6,827.1 C1935.8,839.2 1935.7,851.7 1935.7,860.8 C1935.7,869.9 1935.4,875.0 1934.7,881.6 C1934.0,888.2 1933.0,894.8 1931.6,900.3 C1930.2,905.8 1928.3,911.0 1926.4,914.8 C1924.5,918.6 1922.9,921.3 1920.1,923.1 C1917.3,924.9 1913.2,925.7 1909.7,925.7 C1906.2,925.7 1903.0,924.6 1899.4,923.1 C1895.8,921.6 1891.7,919.5 1887.9,916.9 C1884.1,914.3 1880.3,911.1 1876.5,907.5 C1872.7,903.9 1868.7,899.4 1865.1,895.1 C1861.5,890.8 1858.2,886.5 1854.7,881.6 C1851.2,876.8 1847.8,871.5 1844.3,866.0 C1840.8,860.5 1837.4,854.4 1833.9,848.3 C1830.4,842.1 1828.5,839.1 1823.5,829.1 C1818.5,819.1 1810.5,802.2 1804.0,788.2 C1797.5,774.2 1789.8,756.8 1784.6,745.3 C1779.4,733.8 1776.7,728.6 1773.0,719.5 C1769.3,710.4 1765.7,698.5 1762.6,690.4 C1759.5,682.2 1755.7,673.9 1754.3,670.6" stroke="#b3b3b3" stroke-width="4.6" fill="none" stroke-linecap="butt"/>
<path d="M1584.6,728.8 L1582.6,728.8 L1582.3,728.8 C1582.2,730.8 1581.6,735.3 1581.8,740.8 C1582.0,746.3 1582.5,754.7 1583.4,761.6 C1584.3,768.5 1585.4,775.4 1587.0,782.3 C1588.6,789.2 1590.8,796.2 1593.2,803.1 C1595.6,810.0 1598.5,817.3 1601.6,823.9 C1604.7,830.5 1608.8,837.7 1611.9,842.6 C1615.0,847.5 1616.0,848.7 1620.0,853.5 C1624.0,858.3 1629.5,865.1 1635.6,871.2 C1641.7,877.3 1648.6,883.7 1656.4,889.9 C1664.2,896.1 1672.8,902.2 1682.3,908.6 C1691.8,915.0 1703.1,922.2 1713.5,928.3 C1723.9,934.3 1734.3,939.7 1744.7,944.9 C1755.1,950.1 1765.4,955.2 1775.8,959.5 C1786.2,963.8 1796.1,967.6 1807.0,970.9 C1817.9,974.2 1830.3,977.2 1841.2,979.2 C1852.1,981.2 1861.9,982.3 1872.3,982.9 C1882.7,983.5 1893.1,983.7 1903.5,982.9 C1913.9,982.1 1925.2,980.7 1934.7,978.2 C1944.2,975.7 1952.8,972.1 1960.6,967.8 C1968.4,963.5 1975.7,957.9 1981.4,952.2 C1987.1,946.5 1991.8,938.7 1994.9,933.5 C1998.0,928.3 1999.0,925.9 2000.1,921.0 C2001.1,916.1 2001.3,911.0 2001.2,904.4 C2001.1,897.8 2000.3,889.7 1999.6,881.6 C1998.9,873.5 1998.4,866.3 1997.0,855.6 C1995.6,844.9 1993.8,831.3 1991.1,817.4 C1988.4,803.5 1984.7,787.6 1981.0,772.0 C1977.3,756.4 1973.8,739.7 1968.8,723.5 C1963.8,707.3 1957.8,690.0 1951.3,674.8 C1944.8,659.5 1937.7,645.0 1929.9,632.0 C1922.1,619.0 1913.7,607.6 1904.6,596.9 C1895.5,586.2 1885.0,575.8 1875.3,567.7 C1865.5,559.6 1855.8,553.7 1846.1,548.2 C1836.4,542.7 1825.8,537.5 1816.9,534.5 C1808.0,531.5 1796.7,531.1 1792.7,530.4 L1792.7,530.4 C1793.5,529.7 1795.5,528.3 1797.2,526.4 C1799.0,524.5 1801.2,521.3 1803.2,518.8 C1805.2,516.3 1807.6,513.8 1809.4,511.2 C1811.2,508.6 1812.6,506.0 1814.0,503.4 C1815.4,500.8 1816.6,498.5 1817.7,495.6 C1818.8,492.7 1819.6,490.4 1820.4,486.0 C1821.2,481.6 1822.2,474.5 1822.3,469.1 C1822.4,463.7 1822.1,459.6 1820.8,453.5 C1819.5,447.4 1817.3,439.3 1814.5,432.7 C1811.7,426.1 1808.2,419.7 1804.2,414.0 C1800.2,408.3 1795.4,402.9 1790.6,398.4 C1785.8,393.9 1781.1,390.4 1775.1,387.0 C1769.0,383.6 1761.2,379.9 1754.3,377.7 C1747.4,375.4 1740.4,374.3 1733.5,373.5 C1726.6,372.7 1720.5,372.6 1712.7,373.0 C1704.9,373.4 1694.6,374.6 1686.8,376.1 C1679.0,377.7 1672.1,379.8 1666.0,382.3 C1659.9,384.8 1655.4,387.6 1650.4,391.2 C1645.4,394.8 1640.2,399.3 1636.2,404.0 C1632.2,408.7 1629.1,413.8 1626.5,419.6 C1623.9,425.5 1622.0,432.0 1620.7,439.1 C1619.4,446.2 1618.6,455.4 1618.7,462.5 C1618.8,469.6 1620.0,476.2 1621.6,482.0 C1623.2,487.8 1625.4,492.3 1628.5,497.5 C1631.6,502.7 1635.9,508.9 1640.1,513.1 C1644.3,517.3 1648.6,519.6 1653.8,522.9 C1659.0,526.1 1668.4,531.0 1671.3,532.6" stroke="#b3b3b3" stroke-width="4.6" fill="none" stroke-linejoin="miter" stroke-miterlimit="8"/>
<path d="M1517.4,578.0 C1519.4,574.0 1522.6,563.5 1529.1,554.0 C1535.6,544.5 1548.0,530.0 1556.4,520.9 C1564.9,511.8 1572.7,504.7 1579.8,499.5 C1586.9,494.3 1593.4,491.8 1599.2,489.7 C1605.0,487.6 1610.2,488.4 1614.8,486.8 C1619.3,485.2 1623.2,483.4 1626.5,480.0 C1629.8,476.6 1632.0,472.2 1634.3,466.4 C1636.6,460.5 1638.1,450.8 1640.1,444.9 C1642.0,439.0 1643.7,434.9 1646.0,431.3 C1648.3,427.7 1650.5,425.0 1653.8,423.5 C1657.0,422.0 1661.9,421.9 1665.5,422.5 C1669.1,423.1 1672.3,424.6 1675.2,427.4 C1678.1,430.2 1680.7,434.6 1683.0,439.1 C1685.3,443.7 1686.8,450.5 1688.8,454.7 C1690.8,458.9 1692.8,462.3 1694.7,464.4 C1696.7,466.5 1699.5,466.8 1700.5,467.3" stroke="#b3c92a" stroke-width="7.1" fill="none" stroke-linecap="butt"/>
<path d="M1677.5,429.5 C1679.4,431.1 1685.3,436.5 1688.8,439.1 C1692.3,441.7 1695.3,443.9 1698.6,444.9 C1701.8,445.9 1705.0,445.7 1708.3,444.9 C1711.5,444.1 1716.5,440.9 1718.1,440.1" stroke="#b3c92a" stroke-width="7.1" fill="none" stroke-linecap="butt"/>
<path d="M1517.8,578.4 C1519.0,576.6 1518.8,572.7 1525.2,567.7 C1531.6,562.7 1548.0,553.1 1556.4,548.2 C1564.8,543.3 1570.3,540.8 1575.8,538.5 C1581.3,536.2 1585.0,534.9 1589.5,534.6 C1594.0,534.3 1598.5,534.8 1603.1,536.5 C1607.7,538.2 1612.2,541.4 1617.1,544.7 C1622.0,548.0 1627.5,551.6 1632.7,556.1 C1637.9,560.6 1643.1,565.8 1648.3,571.7 C1653.5,577.6 1659.6,585.4 1663.9,591.4 C1668.2,597.4 1671.5,602.8 1674.3,608.0 C1677.1,613.2 1679.0,619.0 1680.5,622.6 C1682.0,626.2 1682.4,627.1 1683.6,629.9 C1684.8,632.7 1686.9,637.7 1687.6,639.3" stroke="#b3c92a" stroke-width="7.1" fill="none" stroke-linecap="butt"/>
<path d="M1517.8,578.4 C1517.1,580.2 1515.5,584.4 1513.5,589.1 C1511.5,593.8 1507.5,601.1 1505.7,606.6 C1503.9,612.1 1501.8,616.6 1502.5,622.0 C1503.2,627.4 1505.8,633.9 1509.6,639.0 C1513.4,644.1 1519.0,649.0 1525.2,652.6 C1531.4,656.2 1539.8,658.3 1546.6,660.4 C1553.4,662.5 1559.8,664.2 1566.1,665.3 C1572.4,666.4 1581.5,666.9 1584.6,667.2" stroke="#b3c92a" stroke-width="7.1" fill="none" stroke-linecap="butt"/>
<path d="M1687.6,639.3 C1688.8,641.2 1692.1,647.2 1695.1,650.9 C1698.1,654.6 1702.9,658.3 1705.5,661.3 C1708.1,664.2 1709.8,667.4 1710.6,668.6" stroke="#b3c92a" stroke-width="7.1" fill="none" stroke-linecap="butt"/>
<path d="M1710.6,668.6 C1710.5,669.6 1710.0,671.5 1710.1,674.8 C1710.2,678.1 1710.4,683.8 1711.2,688.3 C1712.0,692.8 1713.0,697.1 1714.8,701.8 C1716.6,706.5 1718.8,710.5 1722.1,716.4 C1725.4,722.3 1730.6,730.6 1734.5,737.1 C1738.4,743.6 1738.9,745.9 1745.6,755.1 C1752.3,764.3 1766.0,781.1 1774.8,792.1 C1783.6,803.1 1791.8,813.3 1798.2,821.3 C1804.6,829.3 1809.0,832.9 1813.2,840.0 C1817.4,847.1 1821.2,857.3 1823.6,863.9 C1826.0,870.5 1826.8,874.5 1827.8,879.5 C1828.8,884.5 1829.6,889.5 1829.9,894.0 C1830.2,898.5 1830.2,902.0 1829.9,906.5 C1829.6,911.0 1828.8,916.9 1827.8,921.0 C1826.8,925.1 1825.3,928.6 1823.6,931.4 C1821.9,934.2 1820.2,936.2 1817.4,937.7 C1814.6,939.2 1811.3,940.0 1807.0,940.3 C1802.7,940.6 1797.5,940.7 1791.4,939.7 C1785.3,938.7 1777.5,936.8 1770.6,934.5 C1763.7,932.2 1756.8,929.3 1749.9,926.2 C1743.0,923.1 1736.0,919.6 1729.1,915.8 C1722.2,912.0 1715.2,907.9 1708.3,903.4 C1701.4,898.9 1694.4,894.2 1687.5,888.8 C1680.6,883.4 1672.8,877.1 1666.8,871.2 C1660.8,865.3 1656.0,859.7 1651.2,853.5 C1646.4,847.3 1642.4,840.9 1638.0,834.0 C1633.6,827.1 1629.3,820.3 1624.8,812.0 C1620.3,803.7 1614.3,792.4 1611.2,784.3 C1608.1,776.2 1606.9,767.0 1606.0,763.6" stroke="#b3c92a" stroke-width="7.1" fill="none" stroke-linecap="butt"/>
<path d="M1708.5,672.0 C1709.2,671.8 1710.4,671.0 1712.7,670.6 C1715.0,670.2 1718.1,669.4 1722.1,669.6 C1726.1,669.8 1731.6,670.3 1736.6,671.7 C1741.6,673.1 1747.0,675.1 1752.2,677.9 C1757.4,680.7 1763.5,684.5 1767.8,688.3 C1772.1,692.1 1774.7,695.6 1778.2,700.8 C1781.7,706.0 1784.3,709.8 1788.6,719.5 C1792.9,729.2 1798.5,745.9 1804.0,759.0 C1809.5,772.1 1816.7,786.9 1821.6,797.9 C1826.5,808.9 1830.4,818.0 1833.3,825.0 C1836.2,832.0 1837.3,834.0 1839.1,840.0 C1840.9,846.0 1842.2,853.9 1844.3,860.8 C1846.4,867.7 1849.2,875.4 1851.6,881.6 C1854.0,887.8 1856.0,893.0 1858.8,898.2 C1861.6,903.4 1864.6,908.0 1868.2,912.7 C1871.8,917.4 1876.4,922.7 1880.6,926.2 C1884.8,929.8 1889.3,932.3 1893.1,934.0 C1896.9,935.7 1900.0,936.4 1903.5,936.6 C1907.0,936.8 1910.4,936.0 1913.9,935.1 C1917.4,934.2 1920.8,933.4 1924.3,931.4 C1927.8,929.4 1931.6,926.6 1934.7,923.1 C1937.8,919.6 1940.6,915.1 1943.0,910.6 C1945.4,906.1 1947.7,900.9 1949.2,896.1 C1950.8,891.3 1951.5,887.5 1952.3,881.6 C1953.1,875.7 1953.7,867.7 1953.9,860.8 C1954.1,853.9 1953.7,847.2 1953.4,840.0 C1953.1,832.8 1953.0,827.7 1952.1,817.4 C1951.2,807.1 1949.8,791.4 1948.2,778.4 C1946.6,765.4 1944.8,750.3 1942.4,739.5 C1940.0,728.7 1937.5,722.9 1933.8,713.8 C1930.1,704.6 1925.1,694.4 1920.2,684.6 C1915.3,674.9 1910.4,665.0 1904.6,655.3 C1898.8,645.5 1891.6,635.2 1885.1,626.1 C1878.6,617.0 1870.6,606.4 1865.6,600.8 C1860.6,595.1 1859.3,595.9 1855.1,592.2 C1850.9,588.5 1842.9,581.0 1840.5,578.7" stroke="#b3c92a" stroke-width="7.1" fill="none" stroke-linecap="butt"/>
<path d="M1856.2,901.0 C1856.2,909.9 1855.6,943.7 1856.2,954.3 C1856.8,964.9 1857.9,961.4 1859.9,964.7 C1861.9,968.0 1866.8,972.5 1868.2,974.0" stroke="#b3c92a" stroke-width="7.1" fill="none" stroke-linecap="butt"/>
<path d="M1606.0,764.5L1609.9,746.1 M1606.0,764.5L1592.4,753.9 M1614.8,789.0L1599.2,783.1 M1622.6,808.5L1626.5,787.0 M1630.4,824.1L1612.9,816.2 M1644.0,845.5L1625.5,842.5 M1653.8,857.2L1653.8,839.6 M1663.0,868.0L1646.0,866.5 M1679.2,883.0L1678.2,868.5 M1692.0,896.5L1674.0,893.5 M1708.8,904.4L1708.3,891.5 M1726.0,918.5L1705.2,916.9 M1741.0,923.5L1738.4,904.5 M1760.0,934.5L1739.5,937.3 M1775.3,937.6L1770.6,922.2 M1798.0,942.5L1783.1,952.8 M1817.4,940.3L1798.7,931.5 M1830.8,896.6L1811.6,907.5 M1831.3,884.7L1842.7,898.7 M1832.4,906.5L1840.6,923.6 M1829.2,926.3L1832.6,949.6 M1856.2,920.5L1843.3,931.4 M1856.2,958.5L1844.5,971.2 M1840.4,582.0L1840.4,567.3 M1842.0,582.3L1821.8,576.4 M1855.9,595.2L1834.4,592.0 M1868.5,606.7L1868.5,588.1 M1882.2,628.6L1859.8,619.3 M1898.3,649.0L1898.3,624.2 M1909.5,670.5L1887.0,662.2 M1920.0,690.5L1923.1,665.1 M1934.8,717.2L1916.3,707.0 M1940.4,741.0L1946.5,716.7 M1944.0,761.0L1927.0,748.8 M1948.6,788.0L1955.5,766.0 M1949.7,811.0L1933.6,794.0 M1953.3,856.0L1962.8,832.0 M1951.8,876.3L1939.6,858.2 M1948.2,902.3L1965.8,893.5 M1944.5,930.4L1926.0,930.4 M1897.3,938.7L1913.9,952.2" stroke="#b3c92a" stroke-width="6.7" fill="none" stroke-linecap="butt"/>
<circle cx="1517.8" cy="578.4" r="11.7" fill="#60b02e"/><circle cx="1687.6" cy="639.3" r="11.5" fill="#60b02e"/>
<path d="M1969.5,472.2H2025.3C2029,458 2041,450.9 2056.5,450.9C2072,450.9 2084,458 2088.9,472.2H2148.7L2172.5,532.1L2201.9,327.5L2216.2,553.4L2242.1,472.2H2318.7C2330,455 2350,423 2364,421.5C2372,420.5 2376,429 2379,442C2383,458 2386,472 2397,472.2H2457.7" stroke="#e8b8c5" stroke-width="3.2" fill="none" stroke-linejoin="round"/>
<path d="M2150.2,363.1H2407.5M2150.2,352.2V373.5M2407.5,352.2V373.5M2233.8,449.6H2322.4M2233.8,438.7V459.2M2322.4,438.7V459.2M2025.6,517.9H2151.2M2025.6,507.5V528.2M2151.2,507.5V528.2" stroke="#1a5fa8" stroke-width="1.8" fill="none"/>
<path d="M2034.0,440.3 C2025.8,435.2 2000.4,418.9 1984.7,410.0 C1969.0,401.1 1952.8,392.9 1940.0,386.8 C1927.2,380.7 1920.1,378.4 1907.8,373.2 C1895.5,368.0 1880.0,361.6 1866.2,355.6 C1852.4,349.6 1838.6,343.3 1824.7,337.4 C1810.8,331.5 1796.9,325.8 1783.1,320.3 C1769.2,314.9 1752.1,308.5 1741.6,304.7 C1731.1,300.9 1730.3,300.5 1720.0,297.5 C1709.7,294.5 1692.9,289.7 1679.7,286.6 C1666.5,283.5 1653.8,280.9 1640.8,278.8 C1627.8,276.8 1614.8,275.3 1601.8,274.3 C1588.8,273.3 1573.7,273.0 1562.9,273.0 C1552.1,273.0 1545.6,273.4 1536.9,274.5 C1528.2,275.6 1519.6,276.9 1510.9,279.5 C1502.2,282.1 1492.5,286.0 1484.9,289.9 C1477.3,293.8 1471.3,297.7 1465.5,302.9 C1459.7,308.1 1454.5,314.3 1449.9,321.0 C1445.4,327.7 1441.2,335.5 1438.2,343.1 C1435.2,350.7 1433.2,358.7 1431.7,366.5 C1430.2,374.3 1429.5,382.8 1429.1,389.9 C1428.7,397.0 1428.8,401.8 1429.1,409.4 C1429.4,417.0 1429.8,426.2 1431.0,435.3 C1432.2,444.4 1432.8,450.7 1436.5,464.0 C1440.2,477.3 1447.3,498.0 1453.1,515.1 C1458.8,532.2 1468.0,558.1 1471.0,566.7 M2190.7,509.3 C2189.1,517.1 2184.8,540.9 2181.0,556.0 C2177.2,571.1 2172.0,587.5 2168.1,600.0 C2164.2,612.5 2161.1,621.2 2157.7,631.2 C2154.2,641.2 2151.7,649.8 2147.4,659.7 C2143.1,669.7 2137.0,681.0 2131.8,690.9 C2126.6,700.8 2122.7,709.4 2116.2,719.4 C2109.7,729.4 2101.0,741.1 2092.8,750.6 C2084.6,760.1 2074.2,770.3 2066.9,776.6 C2059.6,782.9 2055.2,785.3 2048.7,788.3 C2042.2,791.3 2034.8,792.8 2027.9,794.8 C2021.0,796.8 2013.6,799.0 2007.1,800.5 C2000.6,802.0 1995.3,802.9 1989.0,803.8 C1982.7,804.7 1976.0,805.3 1969.5,805.7 C1963.0,806.1 1959.8,806.5 1950.1,806.2 C1940.4,805.9 1924.2,805.3 1911.2,803.8 C1898.2,802.3 1883.9,800.1 1872.2,797.2 C1860.5,794.3 1846.3,788.0 1841.1,786.2 M2066.9,776.6 C2065.6,780.5 2062.0,792.1 2059.0,799.9 C2056.0,807.7 2053.0,815.1 2048.7,823.3 C2044.4,831.5 2038.7,841.1 2033.1,849.3 C2027.5,857.5 2021.0,865.4 2014.9,872.7 C2008.8,880.1 2002.3,887.5 1996.7,893.4 C1991.1,899.3 1988.3,902.3 1981.4,908.0 C1974.5,913.7 1965.0,922.1 1955.5,927.4 C1946.0,932.7 1934.7,937.0 1924.3,939.8 C1913.9,942.6 1903.5,944.1 1893.1,944.4 C1882.7,944.6 1872.4,943.3 1862.0,941.3 C1851.6,939.3 1839.5,935.5 1830.8,932.5 C1822.1,929.5 1819.3,927.9 1810.0,923.1 C1800.7,918.4 1785.5,910.5 1774.8,904.0 C1764.1,897.5 1755.3,891.3 1745.6,884.0 C1735.9,876.7 1725.3,868.5 1716.4,860.3 C1707.5,852.1 1696.1,839.1 1692.0,834.9 M2359.5,498.9 C2359.2,509.1 2358.2,543.1 2357.5,560.0 C2356.8,576.9 2356.7,580.4 2355.0,600.0 C2353.3,619.6 2350.8,651.9 2347.3,677.9 C2343.9,703.9 2339.9,729.8 2334.3,755.8 C2328.7,781.8 2322.2,809.9 2313.5,833.7 C2304.8,857.5 2293.2,880.9 2282.4,898.6 C2271.6,916.4 2259.8,929.4 2248.6,940.2 C2237.3,951.0 2225.7,958.0 2214.9,963.5 C2204.1,969.0 2197.5,971.8 2183.7,973.1 C2169.8,974.4 2151.3,973.3 2131.8,971.3 C2112.3,969.3 2089.8,966.7 2066.9,960.9 C2044.0,955.1 2006.6,940.6 1994.6,936.6 M2031.3,548.2 L1715.3,630.1" stroke="#575757" stroke-width="3.5" fill="none"/>
<path d="M1458.3,554.2L1470.2,564.2L1473.4,549.1M1728.7,618.4L1717.8,629.4L1732.7,633.8M1858.8,784.1L1843.5,787.1L1853.3,799.1M1708.6,841.4L1693.7,836.8L1696.7,852.0M2012.3,934.6L1997.0,937.5L2006.8,949.6" stroke="#575757" stroke-width="3.4" fill="none" stroke-linejoin="miter"/>
<text x="1579.5" y="574.3" font-size="23.0" fill="#0a0a0a" stroke="#0a0a0a" stroke-width="0.55" font-weight="bold" textLength="78.1" lengthAdjust="spacingAndGlyphs">NODO</text>
<text x="1579.0" y="602.4" font-size="23.0" fill="#0a0a0a" stroke="#0a0a0a" stroke-width="0.55" font-weight="bold" textLength="108.9" lengthAdjust="spacingAndGlyphs">SINUSAL</text>
<text x="1590.2" y="647.3" font-size="23.0" fill="#0a0a0a" stroke="#0a0a0a" stroke-width="0.55" font-weight="bold" textLength="78.1" lengthAdjust="spacingAndGlyphs">NODO</text>
<text x="1633.2" y="674.5" font-size="23.0" fill="#0a0a0a" stroke="#0a0a0a" stroke-width="0.55" font-weight="bold" textLength="34.8" lengthAdjust="spacingAndGlyphs">AV</text>
<text x="1713.1" y="659.7" font-size="23.0" fill="#0a0a0a" stroke="#0a0a0a" stroke-width="0.55" font-weight="bold" textLength="143.0" lengthAdjust="spacingAndGlyphs">HAZ DE HIS</text>
<text x="1715.1" y="833.9" font-size="23.0" fill="#0a0a0a" stroke="#0a0a0a" stroke-width="0.55" font-weight="bold" textLength="76.3" lengthAdjust="spacingAndGlyphs">RAMA</text>
<text x="1732.4" y="862.0" font-size="23.0" fill="#0a0a0a" stroke="#0a0a0a" stroke-width="0.55" font-weight="bold" textLength="59.0" lengthAdjust="spacingAndGlyphs">DER.</text>
<text x="1853.3" y="844.8" font-size="23.0" fill="#0a0a0a" stroke="#0a0a0a" stroke-width="0.55" font-weight="bold" textLength="75.8" lengthAdjust="spacingAndGlyphs">RAMA</text>
<text x="1853.3" y="872.9" font-size="23.0" fill="#0a0a0a" stroke="#0a0a0a" stroke-width="0.55" font-weight="bold" textLength="48.7" lengthAdjust="spacingAndGlyphs">IZQ.</text>
<text x="2194.1" y="308.6" font-size="23.0" fill="#0a0a0a" stroke="#0a0a0a" stroke-width="0.55" font-weight="bold" textLength="17.9" lengthAdjust="spacingAndGlyphs">R</text>
<text x="2224.5" y="351.4" font-size="23.0" fill="#0a0a0a" stroke="#0a0a0a" stroke-width="0.55" font-weight="bold" textLength="83.5" lengthAdjust="spacingAndGlyphs">INT QT</text>
<text x="2233.0" y="436.6" font-size="23.0" fill="#0a0a0a" stroke="#0a0a0a" stroke-width="0.55" font-weight="bold" textLength="92.7" lengthAdjust="spacingAndGlyphs">SEG. ST</text>
<text x="2101.4" y="460.0" font-size="23.0" fill="#0a0a0a" stroke="#0a0a0a" stroke-width="0.55" font-weight="bold" textLength="34.5" lengthAdjust="spacingAndGlyphs">PR</text>
<text x="2050.5" y="488.0" font-size="23.0" fill="#0a0a0a" stroke="#0a0a0a" stroke-width="0.55" font-weight="bold" textLength="16.5" lengthAdjust="spacingAndGlyphs">P</text>
<text x="2350.7" y="473.5" font-size="23.0" fill="#0a0a0a" stroke="#0a0a0a" stroke-width="0.55" font-weight="bold" textLength="17.1" lengthAdjust="spacingAndGlyphs">T</text>
<text x="2034.4" y="544.9" font-size="23.0" fill="#0a0a0a" stroke="#0a0a0a" stroke-width="0.55" font-weight="bold" textLength="97.9" lengthAdjust="spacingAndGlyphs">INT - PR</text>
<text x="2158.5" y="558.6" font-size="23.0" fill="#0a0a0a" stroke="#0a0a0a" stroke-width="0.55" font-weight="bold" textLength="21.0" lengthAdjust="spacingAndGlyphs">Q</text>
<text x="2218.2" y="661.2" font-size="23.0" fill="#0a0a0a" stroke="#0a0a0a" stroke-width="0.55" font-weight="bold" textLength="15.8" lengthAdjust="spacingAndGlyphs">S</text>
</g>
<g id="fig20">
<rect x="1424.1" y="1230.5" width="858.2" height="270.0" fill="#fffefe"/>
<path d="M1433.13,1230.5V1500.5 M1442.17,1230.5V1500.5 M1451.20,1230.5V1500.5 M1460.24,1230.5V1500.5 M1478.30,1230.5V1500.5 M1487.34,1230.5V1500.5 M1496.37,1230.5V1500.5 M1505.41,1230.5V1500.5 M1523.47,1230.5V1500.5 M1532.51,1230.5V1500.5 M1541.54,1230.5V1500.5 M1550.58,1230.5V1500.5 M1568.64,1230.5V1500.5 M1577.68,1230.5V1500.5 M1586.71,1230.5V1500.5 M1595.75,1230.5V1500.5 M1613.81,1230.5V1500.5 M1622.85,1230.5V1500.5 M1631.88,1230.5V1500.5 M1640.92,1230.5V1500.5 M1658.98,1230.5V1500.5 M1668.02,1230.5V1500.5 M1677.05,1230.5V1500.5 M1686.09,1230.5V1500.5 M1704.15,1230.5V1500.5 M1713.19,1230.5V1500.5 M1722.22,1230.5V1500.5 M1731.26,1230.5V1500.5 M1749.32,1230.5V1500.5 M1758.36,1230.5V1500.5 M1767.39,1230.5V1500.5 M1776.43,1230.5V1500.5 M1794.49,1230.5V1500.5 M1803.53,1230.5V1500.5 M1812.56,1230.5V1500.5 M1821.60,1230.5V1500.5 M1839.66,1230.5V1500.5 M1848.70,1230.5V1500.5 M1857.73,1230.5V1500.5 M1866.77,1230.5V1500.5 M1884.83,1230.5V1500.5 M1893.87,1230.5V1500.5 M1902.90,1230.5V1500.5 M1911.94,1230.5V1500.5 M1930.00,1230.5V1500.5 M1939.04,1230.5V1500.5 M1948.07,1230.5V1500.5 M1957.11,1230.5V1500.5 M1975.17,1230.5V1500.5 M1984.21,1230.5V1500.5 M1993.24,1230.5V1500.5 M2002.28,1230.5V1500.5 M2020.34,1230.5V1500.5 M2029.38,1230.5V1500.5 M2038.41,1230.5V1500.5 M2047.45,1230.5V1500.5 M2065.51,1230.5V1500.5 M2074.55,1230.5V1500.5 M2083.58,1230.5V1500.5 M2092.62,1230.5V1500.5 M2110.68,1230.5V1500.5 M2119.72,1230.5V1500.5 M2128.75,1230.5V1500.5 M2137.79,1230.5V1500.5 M2155.85,1230.5V1500.5 M2164.89,1230.5V1500.5 M2173.92,1230.5V1500.5 M2182.96,1230.5V1500.5 M2201.02,1230.5V1500.5 M2210.06,1230.5V1500.5 M2219.09,1230.5V1500.5 M2228.13,1230.5V1500.5 M2246.19,1230.5V1500.5 M2255.23,1230.5V1500.5 M2264.26,1230.5V1500.5 M2273.30,1230.5V1500.5" stroke="#efcdd7" stroke-width="0.85" fill="none"/>
<path d="M1424.1,1239.50H2282.3 M1424.1,1248.50H2282.3 M1424.1,1257.50H2282.3 M1424.1,1266.50H2282.3 M1424.1,1284.50H2282.3 M1424.1,1293.50H2282.3 M1424.1,1302.50H2282.3 M1424.1,1311.50H2282.3 M1424.1,1329.50H2282.3 M1424.1,1338.50H2282.3 M1424.1,1347.50H2282.3 M1424.1,1356.50H2282.3 M1424.1,1374.50H2282.3 M1424.1,1383.50H2282.3 M1424.1,1392.50H2282.3 M1424.1,1401.50H2282.3 M1424.1,1419.50H2282.3 M1424.1,1428.50H2282.3 M1424.1,1437.50H2282.3 M1424.1,1446.50H2282.3 M1424.1,1464.50H2282.3 M1424.1,1473.50H2282.3 M1424.1,1482.50H2282.3 M1424.1,1491.50H2282.3" stroke="#efcdd7" stroke-width="0.85" fill="none"/>
<path d="M1424.10,1229.3V1501.7 M1469.27,1229.3V1501.7 M1514.44,1229.3V1501.7 M1559.61,1229.3V1501.7 M1604.78,1229.3V1501.7 M1649.95,1229.3V1501.7 M1695.12,1229.3V1501.7 M1740.29,1229.3V1501.7 M1785.46,1229.3V1501.7 M1830.63,1229.3V1501.7 M1875.80,1229.3V1501.7 M1920.97,1229.3V1501.7 M1966.14,1229.3V1501.7 M2011.31,1229.3V1501.7 M2056.48,1229.3V1501.7 M2101.65,1229.3V1501.7 M2146.82,1229.3V1501.7 M2191.99,1229.3V1501.7 M2237.16,1229.3V1501.7 M2282.33,1229.3V1501.7" stroke="#e9b9c6" stroke-width="2.4" fill="none"/>
<path d="M1422.9,1230.50H2283.5 M1422.9,1275.50H2283.5 M1422.9,1320.50H2283.5 M1422.9,1365.50H2283.5 M1422.9,1410.50H2283.5 M1422.9,1455.50H2283.5 M1422.9,1500.50H2283.5" stroke="#e9b9c6" stroke-width="2.4" fill="none"/>
<path d="M1604.78,1230.5V1500.5 M1785.46,1230.5V1500.5 M1875.80,1230.5V1500.5 M2191.99,1230.5V1500.5" stroke="#e6b0bf" stroke-width="3.2" fill="none"/>
<path d="M1424.1,1366.1H2283.3" stroke="#111" stroke-width="2.3" fill="none"/>
<path d="M1466.5,1366.1 L1472.5,1344.7 L1485.6,1403.1 L1498.1,1288.6 L1504.7,1366.1 M1618.5,1365.1 L1625.9,1398.3 L1644.6,1271.0 L1651.2,1388.9 L1671.1,1366.1 M1747.0,1366.1 L1760.1,1275.1 L1772.0,1315.5 L1779.0,1261.9 L1792.2,1366.1 M1874.7,1366.1 L1887.2,1267.8 L1899.6,1393.5 L1913.0,1366.1 M1995.3,1366.1 L2001.8,1391.2 L2020.7,1266.4 L2034.1,1366.1 M2149.7,1366.1 L2161.7,1442.9 L2168.2,1408.7 L2181.1,1439.7 L2188.5,1366.1" stroke="#111" stroke-width="2.4" fill="none" stroke-linejoin="round"/>
<text x="1461.4" y="1456.9" font-size="27.8" fill="#0a0a0a" stroke="#0a0a0a" stroke-width="0.6" font-weight="bold" textLength="59.7" lengthAdjust="spacingAndGlyphs">rSR&#8217;</text>
<text x="1615.6" y="1456.9" font-size="27.8" fill="#0a0a0a" stroke="#0a0a0a" stroke-width="0.6" font-weight="bold" textLength="58.7" lengthAdjust="spacingAndGlyphs">qRs</text>
<text x="1745.1" y="1456.9" font-size="27.8" fill="#0a0a0a" stroke="#0a0a0a" stroke-width="0.6" font-weight="bold" textLength="50.0" lengthAdjust="spacingAndGlyphs">RR&#8217;</text>
<text x="1867.6" y="1456.9" font-size="27.8" fill="#0a0a0a" stroke="#0a0a0a" stroke-width="0.6" font-weight="bold" textLength="38.9" lengthAdjust="spacingAndGlyphs">Rs</text>
<text x="1993.3" y="1456.9" font-size="27.8" fill="#0a0a0a" stroke="#0a0a0a" stroke-width="0.6" font-weight="bold" textLength="43.5" lengthAdjust="spacingAndGlyphs">qR</text>
<text x="2148.6" y="1341.7" font-size="27.8" fill="#0a0a0a" stroke="#0a0a0a" stroke-width="0.6" font-weight="bold" textLength="45.4" lengthAdjust="spacingAndGlyphs">QS</text>
</g>
</svg>
</div></body></html>
